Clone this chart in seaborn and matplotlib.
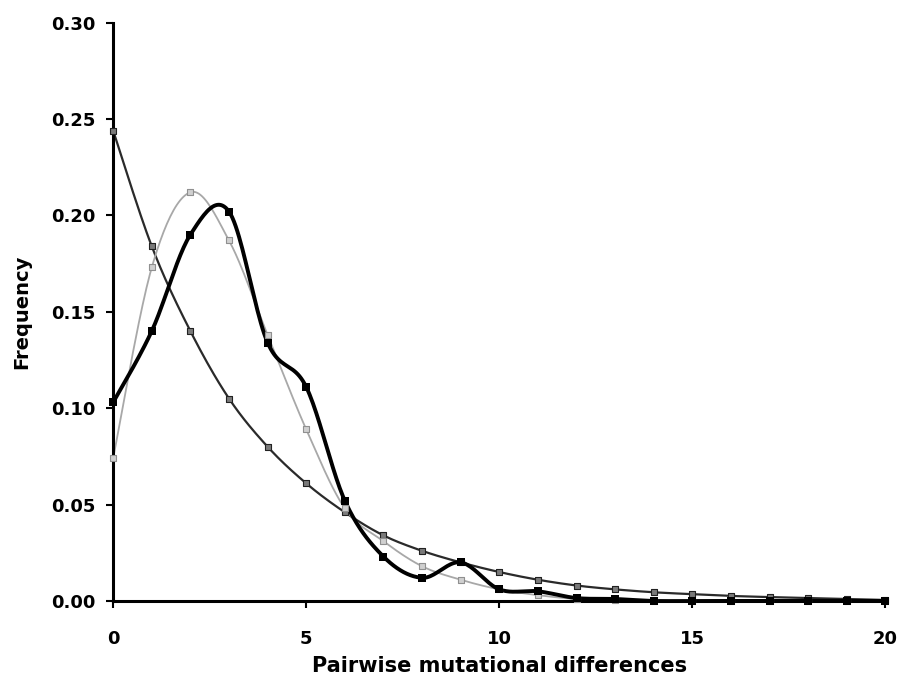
import numpy as np
import seaborn as sns
import matplotlib.pyplot as plt
from matplotlib.ticker import FormatStrFormatter

# --- data ---
diffs = list(range(21))
observed = [0.103, 0.140, 0.190, 0.202, 0.134, 0.111, 0.052, 0.023, 0.012, 0.020,
            0.006, 0.005, 0.0015, 0.001, 0.0, 0.0, 0.0, 0.0, 0.0, 0.0, 0.0]
expansion = [0.074, 0.173, 0.212, 0.187, 0.138, 0.089, 0.048, 0.031, 0.018, 0.011,
             0.006, 0.003, 0.001, 0.0005, 0.0, 0.0, 0.0, 0.0, 0.0, 0.0, 0.0]
constant = [0.244, 0.184, 0.140, 0.105, 0.080, 0.061, 0.046, 0.034, 0.026, 0.020,
            0.015, 0.011, 0.008, 0.006, 0.0045, 0.0035, 0.0026, 0.002, 0.0015, 0.001, 0.0005]


def smooth(x, y, n=24):
    # excel-style smoothed line (bezier through the points)
    x = np.asarray(x, float)
    y = np.asarray(y, float)
    px = np.concatenate([[x[0]], x, [x[-1]]])
    py = np.concatenate([[y[0]], y, [y[-1]]])
    t = np.linspace(0, 1, n)[:, None]
    xs, ys = [], []
    for i in range(1, len(px) - 2):
        p0 = np.array([px[i], py[i]])
        p3 = np.array([px[i + 1], py[i + 1]])
        p1 = p0 + (p3 - np.array([px[i - 1], py[i - 1]])) / 6
        p2 = p3 - (np.array([px[i + 2], py[i + 2]]) - p0) / 6
        pts = ((1 - t) ** 3) * p0 + 3 * ((1 - t) ** 2) * t * p1 + 3 * (1 - t) * t ** 2 * p2 + t ** 3 * p3
        xs.append(pts[:, 0])
        ys.append(pts[:, 1])
    return np.concatenate(xs), np.concatenate(ys)


sns.set_style("white", {"text.color": "black", "axes.labelcolor": "black",
                        "xtick.color": "black", "ytick.color": "black"})
plt.rcParams["font.family"] = ["DejaVu Sans"]

fig = plt.figure(figsize=(8.98, 6.86), dpi=100)
ax = fig.add_axes([0.126, 0.124, 0.860, 0.843])

series = [
    (constant, dict(color="#2a2a2a", lw=1.6), dict(marker="s", s=18, color="#7a7a7a", edgecolor="#222222", linewidth=0.8)),
    (expansion, dict(color="#a8a8a8", lw=1.3), dict(marker="s", s=14, color="#d0d0d0", edgecolor="#909090", linewidth=0.8)),
    (observed, dict(color="black", lw=2.8), dict(marker="s", s=34, color="black", edgecolor="black", linewidth=0)),
]

for vals, line_kw, mark_kw in series:
    sx, sy = smooth(diffs, vals)
    sns.lineplot(x=sx, y=sy, sort=False, estimator=None, ax=ax, **line_kw)
    sns.scatterplot(x=diffs, y=vals, ax=ax, zorder=3, clip_on=False, **mark_kw)

ax.set_xlim(0, 20)
ax.set_ylim(0, 0.30)
ax.set_xticks([0, 5, 10, 15, 20])
ax.set_yticks(np.arange(0, 0.31, 0.05))
ax.yaxis.set_major_formatter(FormatStrFormatter("%.2f"))

for side in ["top", "right"]:
    ax.spines[side].set_visible(False)
for side in ["left", "bottom"]:
    ax.spines[side].set_color("black")
    ax.spines[side].set_linewidth(2.2)

ax.tick_params(axis="both", direction="out", length=5, width=1.5, color="black",
               labelcolor="black", labelsize=13, left=True, bottom=True)
ax.tick_params(axis="x", pad=16)
ax.tick_params(axis="y", pad=8)
for lbl in ax.get_xticklabels() + ax.get_yticklabels():
    lbl.set_fontweight("bold")

ax.set_xlabel("Pairwise mutational differences", fontsize=15, fontweight="bold",
              color="black", labelpad=6)
ax.set_ylabel("Frequency", fontsize=14, fontweight="bold", color="black", labelpad=14)

plt.savefig("out.png", dpi=100)
